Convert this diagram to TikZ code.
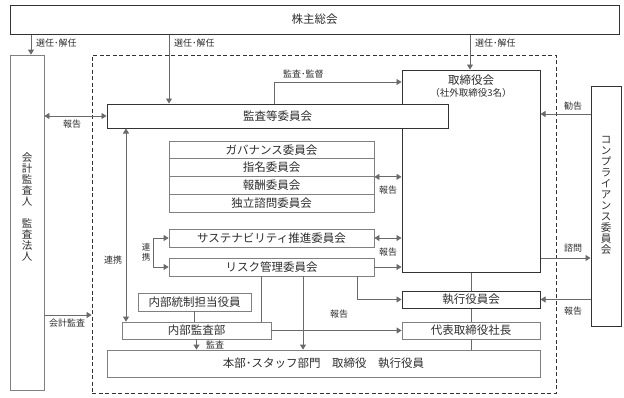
\documentclass[tikz,border=0pt]{standalone}
\usepackage{fontspec}
\setmainfont{Noto Sans CJK JP}
\usetikzlibrary{arrows.meta}
\definecolor{dk}{HTML}{333333}
\definecolor{gr}{HTML}{808080}
\definecolor{ln}{HTML}{6A6A6A}
\definecolor{tx}{HTML}{2E2E2E}
\tikzset{
  darkbox/.style={draw=dk, line width=1pt, fill=white, inner sep=0pt, text=tx, font=\fontsize{11.5}{13}\selectfont},
  graybox/.style={draw=gr, line width=0.8pt, fill=white, inner sep=0pt, text=tx, font=\fontsize{11.5}{13}\selectfont},
  dashbox/.style={draw=dk, line width=0.9pt, dash pattern=on 4pt off 2.5pt, inner sep=0pt},
  conn/.style={draw=ln, line width=0.8pt},
  arr/.style={conn, -{Triangle[length=5pt,width=6pt]}},
  darr/.style={conn, {Triangle[length=5pt,width=6pt]}-{Triangle[length=5pt,width=6pt]}},
  lbl/.style={font=\fontsize{9}{10}\selectfont, text=tx, inner sep=0pt},
  vtxt/.style={align=center, inner sep=0pt, text=tx},
}
\begin{document}
\begin{tikzpicture}[x=1pt,y=-1pt]
\useasboundingbox (0,0) rectangle (624,397);
% dashed frame
\node[dashbox, minimum width=464pt, minimum height=338pt] (dash) at (324,224) {};
% helper coordinates
\coordinate (xa) at (31,0);
\coordinate (xb) at (169,0);
\coordinate (xc) at (470,0);
\coordinate (xd) at (274,0);
\coordinate (ye) at (0,82);
\coordinate (yg) at (0,114);
\coordinate (xh) at (126,0);
\coordinate (xk) at (153,0);
\coordinate (yl) at (0,258);
\coordinate (xm) at (261,0);
\coordinate (xn) at (303,0);
\coordinate (xo) at (357,0);
\coordinate (yq) at (0,315);
% boxes
\node[darkbox, minimum width=609pt, minimum height=29pt] (sh) at (314.5,19.5) {株主総会};
\node[graybox, minimum width=34pt, minimum height=335pt] (ka) at (27,222.5) {};
\node[vtxt, font=\fontsize{10.5}{10.9}\selectfont] (kat) at (27,207) {会\\計\\監\\査\\人\\[10.9pt]監\\査\\法\\人};
\node[darkbox, minimum width=138pt, minimum height=202pt] (tr) at (471,171) {};
\node[text=tx, inner sep=0pt, font=\fontsize{11.5}{13}\selectfont] (trt) at (471,80) {取締役会};
\node[text=tx, inner sep=0pt, font=\fontsize{9.5}{11}\selectfont] (trs) at (471,93) {（社外取締役3名）};
\node[darkbox, minimum width=341pt, minimum height=24pt] (kt) at (277.5,116) {監査等委員会};
\node[darkbox, minimum width=30pt, minimum height=240pt] (co) at (606,206) {};
\node[vtxt, font=\fontsize{10.5}{11}\selectfont] (cot) at (606,195.5) {コ\\ン\\プ\\ラ\\イ\\ア\\ン\\ス\\委\\員\\会};
\node[graybox, minimum width=205pt, minimum height=17.75pt] (c1) at (271.5,149.9) {ガバナンス委員会};
\node[graybox, minimum width=205pt, minimum height=17.75pt] (c2) at (271.5,167.6) {指名委員会};
\node[graybox, minimum width=205pt, minimum height=17.75pt] (c3) at (271.5,185.4) {報酬委員会};
\node[graybox, minimum width=205pt, minimum height=17.75pt] (c4) at (271.5,203.1) {独立諮問委員会};
\node[graybox, minimum width=205pt, minimum height=18pt] (su) at (271.5,238) {サステナビリティ推進委員会};
\node[graybox, minimum width=205pt, minimum height=18pt] (ri) at (271.5,267) {リスク管理委員会};
\node[darkbox, minimum width=138pt, minimum height=17pt] (ex) at (471,299.5) {執行役員会};
\node[graybox, minimum width=138pt, minimum height=17pt] (pr) at (471,330.5) {代表取締役社長};
\node[graybox, minimum width=113pt, minimum height=18pt] (ic) at (194.5,302) {内部統制担当役員};
\node[graybox, minimum width=149pt, minimum height=17pt] (ia) at (196.5,330.5) {内部監査部};
\node[graybox, minimum width=433pt, minimum height=27pt] (hq) at (323.5,363.5) {本部･スタッフ部門　取締役　執行役員};
% connectors
\draw[arr] (sh.south -| xa) -- (ka.north -| xa);
\draw[arr] (sh.south -| xb) -- (kt.north -| xb);
\draw[arr] (sh.south -| xc) -- (tr.north -| xc);
\draw[arr] (kt.north -| xd) |- (tr.west |- ye);
\draw[darr] (ka.east |- kt.west) -- (kt.west);
\draw[arr] (co.west |- yg) -- (tr.east |- yg);
\draw[darr] (kt.south -| xh) -- (ia.north -| xh);
\draw[darr] (c2.south east) -- (tr.west |- c2.south east);
\draw[darr] (su.east) -- (tr.west |- su.east);
\draw[arr] (ri.east) -- (tr.west |- ri.east);
\draw[arr] (ri.west -| xk) -- (su.west -| xk) -- (su.west);
\draw[arr] (su.west -| xk) -- (ri.west -| xk) -- (ri.west);
\draw[arr] (tr.east |- yl) -- (co.west |- yl);
\draw[conn] (ri.south -| xm) -- (ia.north -| xm);
\draw[arr] (ri.south -| xn) -- (hq.north -| xn);
\draw[arr] (ri.south -| xo) |- (ex.west);
\draw[conn] (tr.south) -- (ex.north);
\draw[conn] (ex.south) -- (pr.north);
\draw[conn] (pr.south) -- (hq.north -| pr.south);
\draw[arr] (co.west |- ex.east) -- (ex.east);
\draw[conn] (ic.south) -- (ia.north -| ic.south);
\draw[arr] (ia.east) -- (pr.west |- ia.east);
\draw[arr] (ia.south) -- (hq.north -| ia.south);
\draw[arr] (ka.east |- yq) -- (dash.west |- yq);
% labels
\node[lbl, anchor=west] (l1) at (36,43) {選任･解任};
\node[lbl, anchor=west] (l2) at (174,43) {選任･解任};
\node[lbl, anchor=west] (l3) at (475,43) {選任･解任};
\node[lbl, anchor=west] (l4) at (283,74) {監査･監督};
\node[lbl] (l5) at (72,124) {報告};
\node[lbl] (l6) at (573,106) {勧告};
\node[lbl] (l7) at (113,260) {連携};
\node[lbl] (l8) at (388,190) {報告};
\node[lbl] (l9) at (388,252) {報告};
\node[lbl, align=center, font=\fontsize{8.5}{10}\selectfont] (l10) at (146,252) {連\\携};
\node[lbl] (l11) at (573,248) {諮問};
\node[lbl] (l12) at (573,311) {報告};
\node[lbl] (l13) at (339,314) {報告};
\node[lbl] (l14) at (215,345) {監査};
\node[lbl] (l15) at (67,323) {会計監査};
\end{tikzpicture}
\end{document}
